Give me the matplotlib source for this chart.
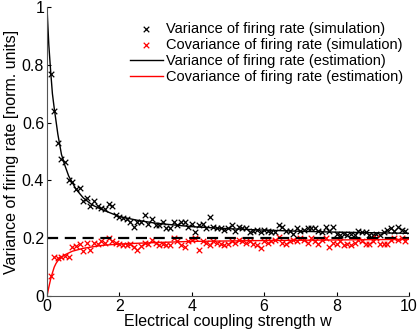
import numpy as np
import matplotlib
matplotlib.use('Agg')
from matplotlib import pyplot as plt

plt.rcParams['font.family'] = ['Liberation Sans', 'DejaVu Sans']

# simulation points, w = 0.1 ... 9.9
w_sim = [round(0.1 * k, 1) for k in range(1, 100)]
var_sim = [0.77, 0.64, 0.53, 0.475, 0.465, 0.40, 0.395, 0.37, 0.375, 0.33,
           0.34, 0.31, 0.33, 0.31, 0.305, 0.30, 0.32, 0.31, 0.28, 0.275,
           0.27, 0.265, 0.255, 0.24, 0.255, 0.255, 0.28, 0.25, 0.265, 0.245,
           0.245, 0.255, 0.235, 0.235, 0.255, 0.245, 0.255, 0.255, 0.24, 0.25,
           0.22, 0.245, 0.25, 0.235, 0.273, 0.24, 0.235, 0.235, 0.23, 0.235,
           0.245, 0.225, 0.24, 0.235, 0.235, 0.22, 0.225, 0.23, 0.22, 0.23,
           0.225, 0.22, 0.22, 0.245, 0.24, 0.225, 0.225, 0.215, 0.235, 0.225,
           0.23, 0.235, 0.235, 0.235, 0.225, 0.22, 0.24, 0.225, 0.24, 0.215,
           0.21, 0.215, 0.21, 0.215, 0.21, 0.225, 0.22, 0.22, 0.21, 0.21,
           0.215, 0.21, 0.22, 0.23, 0.235, 0.225, 0.24, 0.23, 0.225]
cov_sim = [0.07, 0.135, 0.13, 0.134, 0.14, 0.134, 0.17, 0.173, 0.18, 0.156,
           0.183, 0.159, 0.184, 0.18, 0.19, 0.185, 0.20, 0.19, 0.185, 0.18,
           0.178, 0.175, 0.18, 0.17, 0.158, 0.172, 0.185, 0.18, 0.195, 0.185,
           0.178, 0.18, 0.175, 0.175, 0.2, 0.19, 0.178, 0.17, 0.19, 0.195,
           0.2, 0.16, 0.19, 0.185, 0.175, 0.19, 0.185, 0.18, 0.175, 0.18,
           0.19, 0.185, 0.195, 0.19, 0.185, 0.19, 0.18, 0.175, 0.165, 0.19,
           0.185, 0.19, 0.195, 0.205, 0.185, 0.18, 0.19, 0.195, 0.19, 0.2,
           0.195, 0.185, 0.2, 0.19, 0.18, 0.195, 0.2, 0.17, 0.185, 0.18,
           0.19, 0.175, 0.18, 0.175, 0.185, 0.195, 0.19, 0.18, 0.18, 0.19,
           0.2, 0.18, 0.18, 0.18, 0.195, 0.2, 0.195, 0.2, 0.19]

# estimation curves
w_var_est = [0, 0.05, 0.1, 0.15, 0.2, 0.3, 0.4, 0.5, 0.6, 0.8, 1.0, 1.25,
             1.5, 2.0, 2.5, 3, 4, 5, 6, 7, 8, 9, 10]
var_est = [1.0, 0.87, 0.78, 0.70, 0.65, 0.56, 0.49, 0.45, 0.415, 0.37, 0.34,
           0.315, 0.30, 0.275, 0.262, 0.252, 0.24, 0.233, 0.228, 0.224, 0.221,
           0.219, 0.217]
w_cov_est = [0, 0.05, 0.1, 0.15, 0.2, 0.25, 0.3, 0.4, 0.5, 0.7, 1.0, 1.5,
             2, 3, 4, 6, 8, 10]
cov_est = [0.0, 0.03, 0.058, 0.08, 0.1, 0.113, 0.122, 0.135, 0.143, 0.155,
           0.165, 0.175, 0.18, 0.185, 0.189, 0.192, 0.194, 0.196]

ref_level = 0.2

fig = plt.figure(figsize=(4.18, 3.31), dpi=100)
ax = fig.add_axes([0.1124, 0.1057, 0.866, 0.873])

ax.plot([0, 10], [ref_level, ref_level], color='k', lw=1.6, dashes=(5, 3))
ax.scatter(w_sim, var_sim, marker='x', s=16, color='k', lw=0.9,
           label='Variance of firing rate (simulation)')
ax.scatter(w_sim, cov_sim, marker='x', s=16, color='r', lw=0.9,
           label='Covariance of firing rate (simulation)')
ax.plot(w_var_est, var_est, color='k', lw=1.0,
        label='Variance of firing rate (estimation)')
ax.plot(w_cov_est, cov_est, color='r', lw=1.0,
        label='Covariance of firing rate (estimation)')

ax.set_xlim(0, 10)
ax.set_ylim(0, 1)
ax.set_xticks([0, 2, 4, 6, 8, 10])
ax.set_yticks([0, 0.2, 0.4, 0.6, 0.8, 1])
ax.set_yticklabels(['0', '0.2', '0.4', '0.6', '0.8', '1'])
ax.tick_params(direction='in', length=3, labelsize=11.5, pad=2)
ax.spines['top'].set_visible(False)
ax.spines['right'].set_visible(False)
for s in ['left', 'bottom']:
    ax.spines[s].set_color('#555555')

ax.set_xlabel('Electrical coupling strength w', fontsize=11.5, labelpad=0)
ax.set_ylabel('Variance of firing rate [norm. units]', fontsize=11.5, labelpad=2)

ax.legend(loc='upper right', frameon=False, fontsize=10.5, handlelength=2.3,
          handletextpad=0.2, labelspacing=0.15, borderaxespad=0.0,
          scatterpoints=1, bbox_to_anchor=(1.0, 0.97))

plt.savefig('out.png', dpi=100)
